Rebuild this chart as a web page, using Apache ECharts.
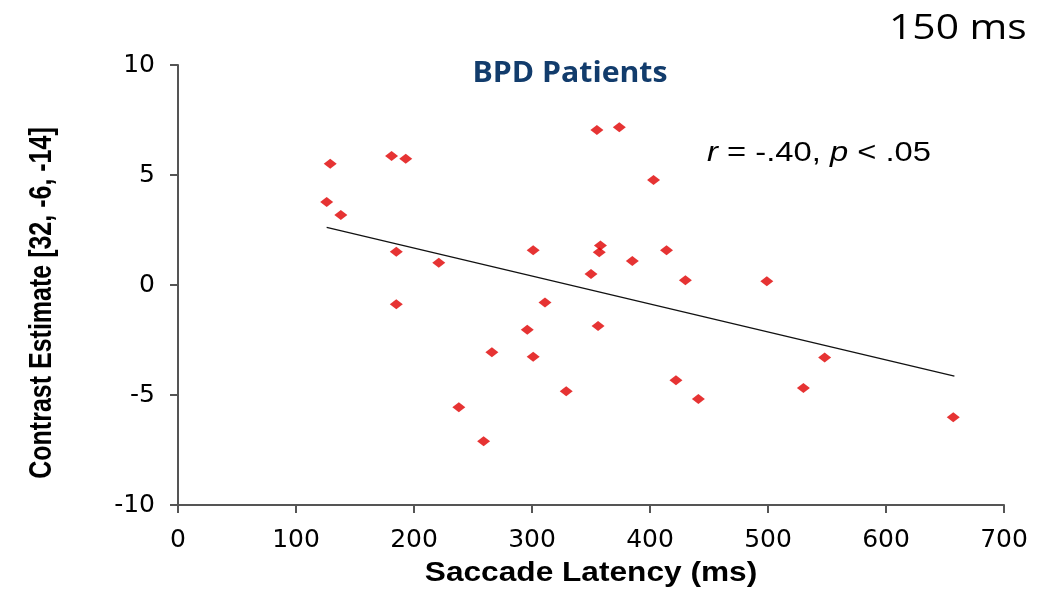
<!DOCTYPE html>
<html>
<head>
<meta charset="utf-8">
<script src="https://cdn.jsdelivr.net/npm/echarts@6/dist/echarts.min.js"></script>
<style>
  html, body { margin: 0; padding: 0; background: #fff; }
  #chart { width: 1056px; height: 589px; }
</style>
</head>
<body>
<div id="chart"></div>
<script>
// Saccade latency (ms) per patient
const latency = [126, 129, 138, 181, 193, 185, 185, 221, 238, 259, 266, 296, 301, 301, 311, 329,
                 350, 355, 356, 357, 358, 374, 385, 403, 414, 422, 430, 441, 499, 530, 548, 657];
// Contrast estimate at [32, -6, -14] per patient
const contrast = [3.77, 5.51, 3.18, 5.86, 5.74, 1.51, -0.88, 1.01, -5.56, -7.10, -3.06, -2.03, -3.26, 1.58, -0.79, -4.83,
                  0.50, 7.05, -1.86, 1.49, 1.80, 7.17, 1.09, 4.77, 1.58, -4.33, 0.22, -5.18, 0.17, -4.68, -3.29, -6.01];
// Fitted regression line end points
const fitX = [126, 658];
const fitY = [2.62, -4.14];
// Axis ranges and tick spacing
const xRange = [0, 700], xStep = 100;
const yRange = [-10, 10], yStep = 5;

const titleText = 'BPD Patients';
const windowText = '150 ms';
const statText = '{i|r} = -.40, {i|p} < .05';
const xName = 'Saccade Latency (ms)';
const yName = 'Contrast Estimate [32, -6, -14]';

const points = latency.map((x, i) => [x, contrast[i]]);
const fitLine = fitX.map((x, i) => [x, fitY[i]]);

const axisColor = '#555555';
const tickFont = { color: '#000', fontFamily: 'DejaVu Sans', fontSize: 25 };

const chart = echarts.init(document.getElementById('chart'), null, { renderer: 'canvas' });
chart.setOption({
  animation: false,
  backgroundColor: '#ffffff',
  grid: { left: 178, right: 52, top: 65, bottom: 84, containLabel: false },
  xAxis: {
    type: 'value', min: xRange[0], max: xRange[1], interval: xStep,
    axisLine: { show: true, onZero: false, lineStyle: { color: axisColor, width: 2 } },
    axisTick: { show: true, length: 8, lineStyle: { color: axisColor, width: 2 } },
    splitLine: { show: false },
    axisLabel: Object.assign({ margin: 23 }, tickFont)
  },
  yAxis: {
    type: 'value', min: yRange[0], max: yRange[1], interval: yStep,
    axisLine: { show: true, onZero: false, lineStyle: { color: axisColor, width: 2 } },
    axisTick: { show: true, length: 8, lineStyle: { color: axisColor, width: 2 } },
    splitLine: { show: false },
    axisLabel: Object.assign({ margin: 23 }, tickFont)
  },
  series: [
    {
      type: 'line', data: fitLine, symbol: 'none', silent: true, z: 2,
      lineStyle: { color: '#111', width: 1.3 }
    },
    {
      type: 'scatter', data: points, symbol: 'diamond', symbolSize: [13, 10], z: 3,
      itemStyle: { color: '#e00000' }
    }
  ],
  graphic: [
    {
      type: 'text', x: 889, y: 29, scaleX: 1.2,
      style: { text: windowText, fontFamily: 'Open Sans', fontSize: 34, fill: '#000',
               align: 'left', verticalAlign: 'middle' }
    },
    {
      type: 'text', x: 570, y: 74, scaleX: 1.08,
      style: { text: titleText, fontFamily: 'Open Sans', fontWeight: 'bold', fontSize: 28, fill: '#123c6c',
               align: 'center', verticalAlign: 'middle' }
    },
    {
      type: 'text', x: 707, y: 153, scaleX: 1.17,
      style: { text: statText, fontFamily: 'Liberation Sans', fontSize: 28, fill: '#000',
               align: 'left', verticalAlign: 'middle',
               rich: { i: { fontFamily: 'Liberation Sans', fontSize: 28, fontStyle: 'italic', fill: '#000' } } }
    },
    {
      type: 'text', x: 591, y: 573, scaleX: 1.13,
      style: { text: xName, fontFamily: 'Liberation Sans', fontWeight: 'bold', fontSize: 28, fill: '#000',
               align: 'center', verticalAlign: 'middle' }
    },
    {
      type: 'text', x: 42, y: 303, rotation: Math.PI / 2, scaleY: 1.25,
      style: { text: yName, fontFamily: 'Liberation Sans', fontWeight: 'bold', fontSize: 25, fill: '#000',
               align: 'center', verticalAlign: 'middle' }
    }
  ]
});
</script>
</body>
</html>
